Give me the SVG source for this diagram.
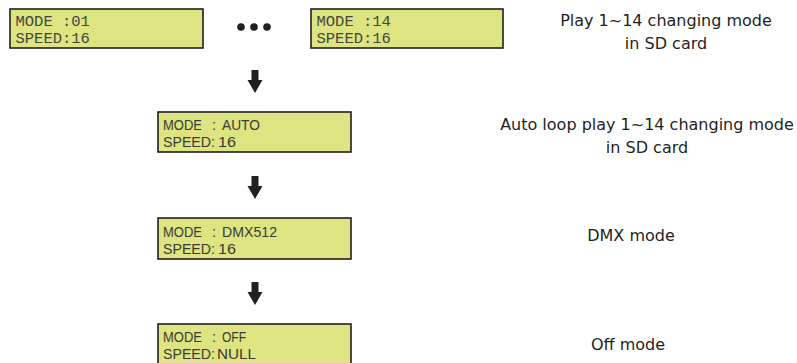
<svg xmlns="http://www.w3.org/2000/svg" width="797" height="363" viewBox="0 0 797 363">
<style>
.lcd{fill:#dde481;stroke:#231f20;stroke-width:1.6}
.mono{font-family:"Liberation Mono","DejaVu Sans Mono",monospace;font-size:15.5px;fill:#45453d}
.sans{font-family:"Liberation Sans",Arial,sans-serif;font-size:15px;fill:#3b3b35}
.lbl{font-family:"DejaVu Sans","Noto Sans",sans-serif;font-size:16px;fill:#231f20;text-anchor:middle}
.arr{fill:#231f20}
</style>
<defs>
<path id="arrow" d="M-3.5,0 H3.5 V10 H7.5 L0,23 L-7.5,10 H-3.5 Z"/>
</defs>
<rect width="797" height="363" fill="#ffffff"/>
<g id="node-mode01">
<rect class="lcd" x="10" y="9" width="193" height="39"/>
<text class="mono" x="15.5" y="26">MODE :01</text>
<text class="mono" x="15.5" y="43">SPEED:16</text>
</g>
<g id="node-dots">
<circle cx="241" cy="27" r="3.8" fill="#231f20"/>
<circle cx="254" cy="27" r="3.8" fill="#231f20"/>
<circle cx="267" cy="27" r="3.8" fill="#231f20"/>
</g>
<g id="node-mode14">
<rect class="lcd" x="311" y="9" width="192" height="39"/>
<text class="mono" x="316.5" y="26">MODE :14</text>
<text class="mono" x="316.5" y="43">SPEED:16</text>
</g>
<g id="label-play">
<text class="lbl" x="666" y="26">Play 1~14 changing mode</text>
<text class="lbl" x="666" y="49">in SD card</text>
</g>
<g id="node-auto">
<rect class="lcd" x="158" y="112" width="193" height="40"/>
<text class="sans" x="163" y="130" textLength="39" lengthAdjust="spacingAndGlyphs">MODE</text>
<text class="sans" x="212" y="130">:</text>
<text class="sans" x="222" y="130" textLength="38" lengthAdjust="spacingAndGlyphs">AUTO</text>
<text class="sans" x="163" y="147" textLength="52" lengthAdjust="spacingAndGlyphs">SPEED:</text>
<text class="sans" x="218" y="147" textLength="18" lengthAdjust="spacingAndGlyphs">16</text>
</g>
<g id="label-auto">
<text class="lbl" x="647" y="130">Auto loop play 1~14 changing mode</text>
<text class="lbl" x="647" y="153">in SD card</text>
</g>
<g id="node-dmx">
<rect class="lcd" x="158" y="218" width="193" height="41"/>
<text class="sans" x="163" y="237" textLength="39" lengthAdjust="spacingAndGlyphs">MODE</text>
<text class="sans" x="212" y="237">:</text>
<text class="sans" x="222" y="237" textLength="55" lengthAdjust="spacingAndGlyphs">DMX512</text>
<text class="sans" x="163" y="254" textLength="52" lengthAdjust="spacingAndGlyphs">SPEED:</text>
<text class="sans" x="218" y="254" textLength="18" lengthAdjust="spacingAndGlyphs">16</text>
</g>
<g id="label-dmx">
<text class="lbl" x="631" y="241">DMX mode</text>
</g>
<g id="node-off">
<rect class="lcd" x="158" y="324" width="193" height="45"/>
<text class="sans" x="163" y="342" textLength="39" lengthAdjust="spacingAndGlyphs">MODE</text>
<text class="sans" x="212" y="342">:</text>
<text class="sans" x="222" y="342" textLength="24" lengthAdjust="spacingAndGlyphs">OFF</text>
<text class="sans" x="163" y="359" textLength="52" lengthAdjust="spacingAndGlyphs">SPEED:</text>
<text class="sans" x="217" y="359" textLength="39" lengthAdjust="spacingAndGlyphs">NULL</text>
</g>
<g id="label-off">
<text class="lbl" x="628" y="350">Off mode</text>
</g>
<g id="connectors">
<use href="#arrow" class="arr" x="255" y="70"/>
<use href="#arrow" class="arr" x="255" y="176"/>
<use href="#arrow" class="arr" x="255" y="282"/>
</g>
</svg>
